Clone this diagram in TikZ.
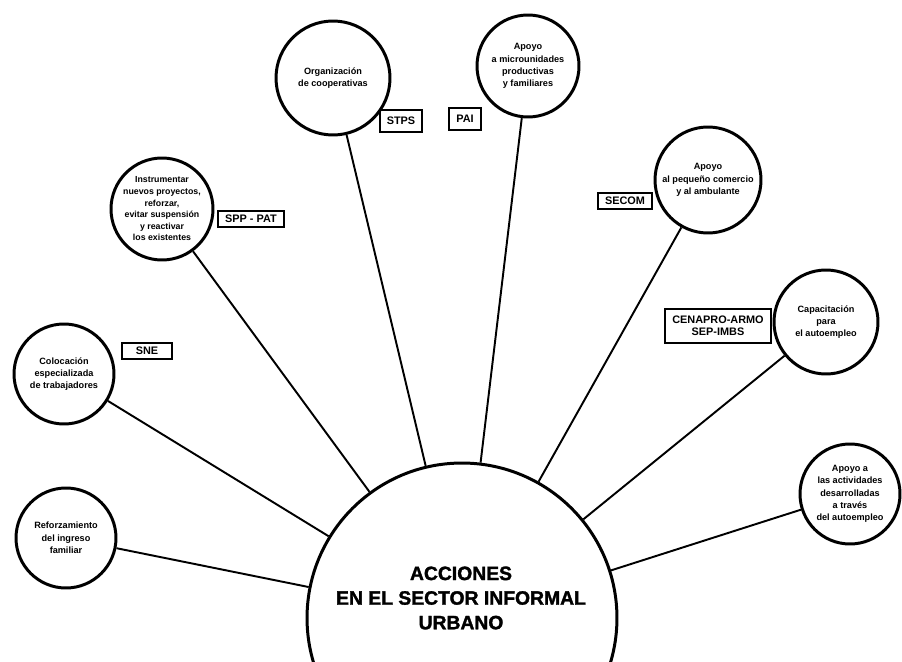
\documentclass[tikz,border=0pt]{standalone}
\usepackage{fontspec}
\setsansfont{Liberation Sans}
\newfontfamily\heavyfont[FakeBold=1.6]{Liberation Sans Bold}
\usetikzlibrary{positioning}

\begin{document}
\begin{tikzpicture}[x=0.02cm,y=-0.02cm,
    bubble/.style={circle,draw,line width=1.7pt,inner sep=0pt,minimum size=#1},
    caption/.style={font=\sffamily\bfseries\fontsize{5.2}{7}\selectfont,align=center},
    agency/.style={draw,line width=1.2pt,inner xsep=4pt,inner ysep=2.5pt,
      font=\sffamily\bfseries\fontsize{6.2}{6.6}\selectfont,align=center},
    spoke/.style={line width=1.1pt}]
      \useasboundingbox (0,0) rectangle (902,662);

      \node[bubble=6.2cm] (acciones) at (462,618) {};
      \node[font=\heavyfont\fontsize{11}{14}\selectfont,align=center]
        (titulo) at (461,598) {ACCIONES\\EN EL SECTOR INFORMAL\\URBANO};

      \node[bubble=2.04cm] (instr) at (162,209) {};
      \node[caption,font=\sffamily\bfseries\fontsize{5}{6.6}\selectfont] (instr-t) at (instr) {Instrumentar\\nuevos proyectos,\\reforzar,\\evitar suspensión\\y reactivar\\los existentes};
      \node[bubble=2.28cm] (coop) at (333,78) {};
      \node[caption] (coop-t) at (coop) {Organización\\de cooperativas};
      \node[bubble=2.04cm] (micro) at (528,66) {};
      \node[caption] (micro-t) at (micro) {Apoyo\\a microunidades\\productivas\\y familiares};
      \node[bubble=2.12cm] (comercio) at (708,180) {};
      \node[caption] (comercio-t) at (comercio) {Apoyo\\al pequeño comercio\\y al ambulante};
      \node[bubble=2.08cm] (capac) at (826,322) {};
      \node[caption] (capac-t) at (capac) {Capacitación\\para\\el autoempleo};
      \node[bubble=2cm] (activ) at (850,494) {};
      \node[caption] (activ-t) at (activ) {Apoyo a\\las actividades\\desarrolladas\\a través\\del autoempleo};
      \node[bubble=2cm] (coloc) at (64,374) {};
      \node[caption] (coloc-t) at (coloc) {Colocación\\especializada\\de trabajadores};
      \node[bubble=2cm] (reforz) at (66,538) {};
      \node[caption] (reforz-t) at (reforz) {Reforzamiento\\del ingreso\\familiar};

      \node[agency] (spp) at (251,219) {SPP - PAT};
      \node[agency,inner ysep=4pt] (stps) at (401,121) {STPS};
      \node[agency,inner ysep=4pt] (pai) at (465,119) {PAI};
      \node[agency] (secom) at (625,201) {SECOM};
      \node[agency,inner ysep=4pt] (cenapro) at (718,326) {CENAPRO-ARMO\\SEP-IMBS};
      \node[agency,inner xsep=8pt] (sne) at (147,351) {SNE};

      \foreach \sat in {instr,coop,micro,comercio,capac,activ,coloc,reforz}
        \draw[spoke] (\sat) -- (acciones);
\end{tikzpicture}
\end{document}
